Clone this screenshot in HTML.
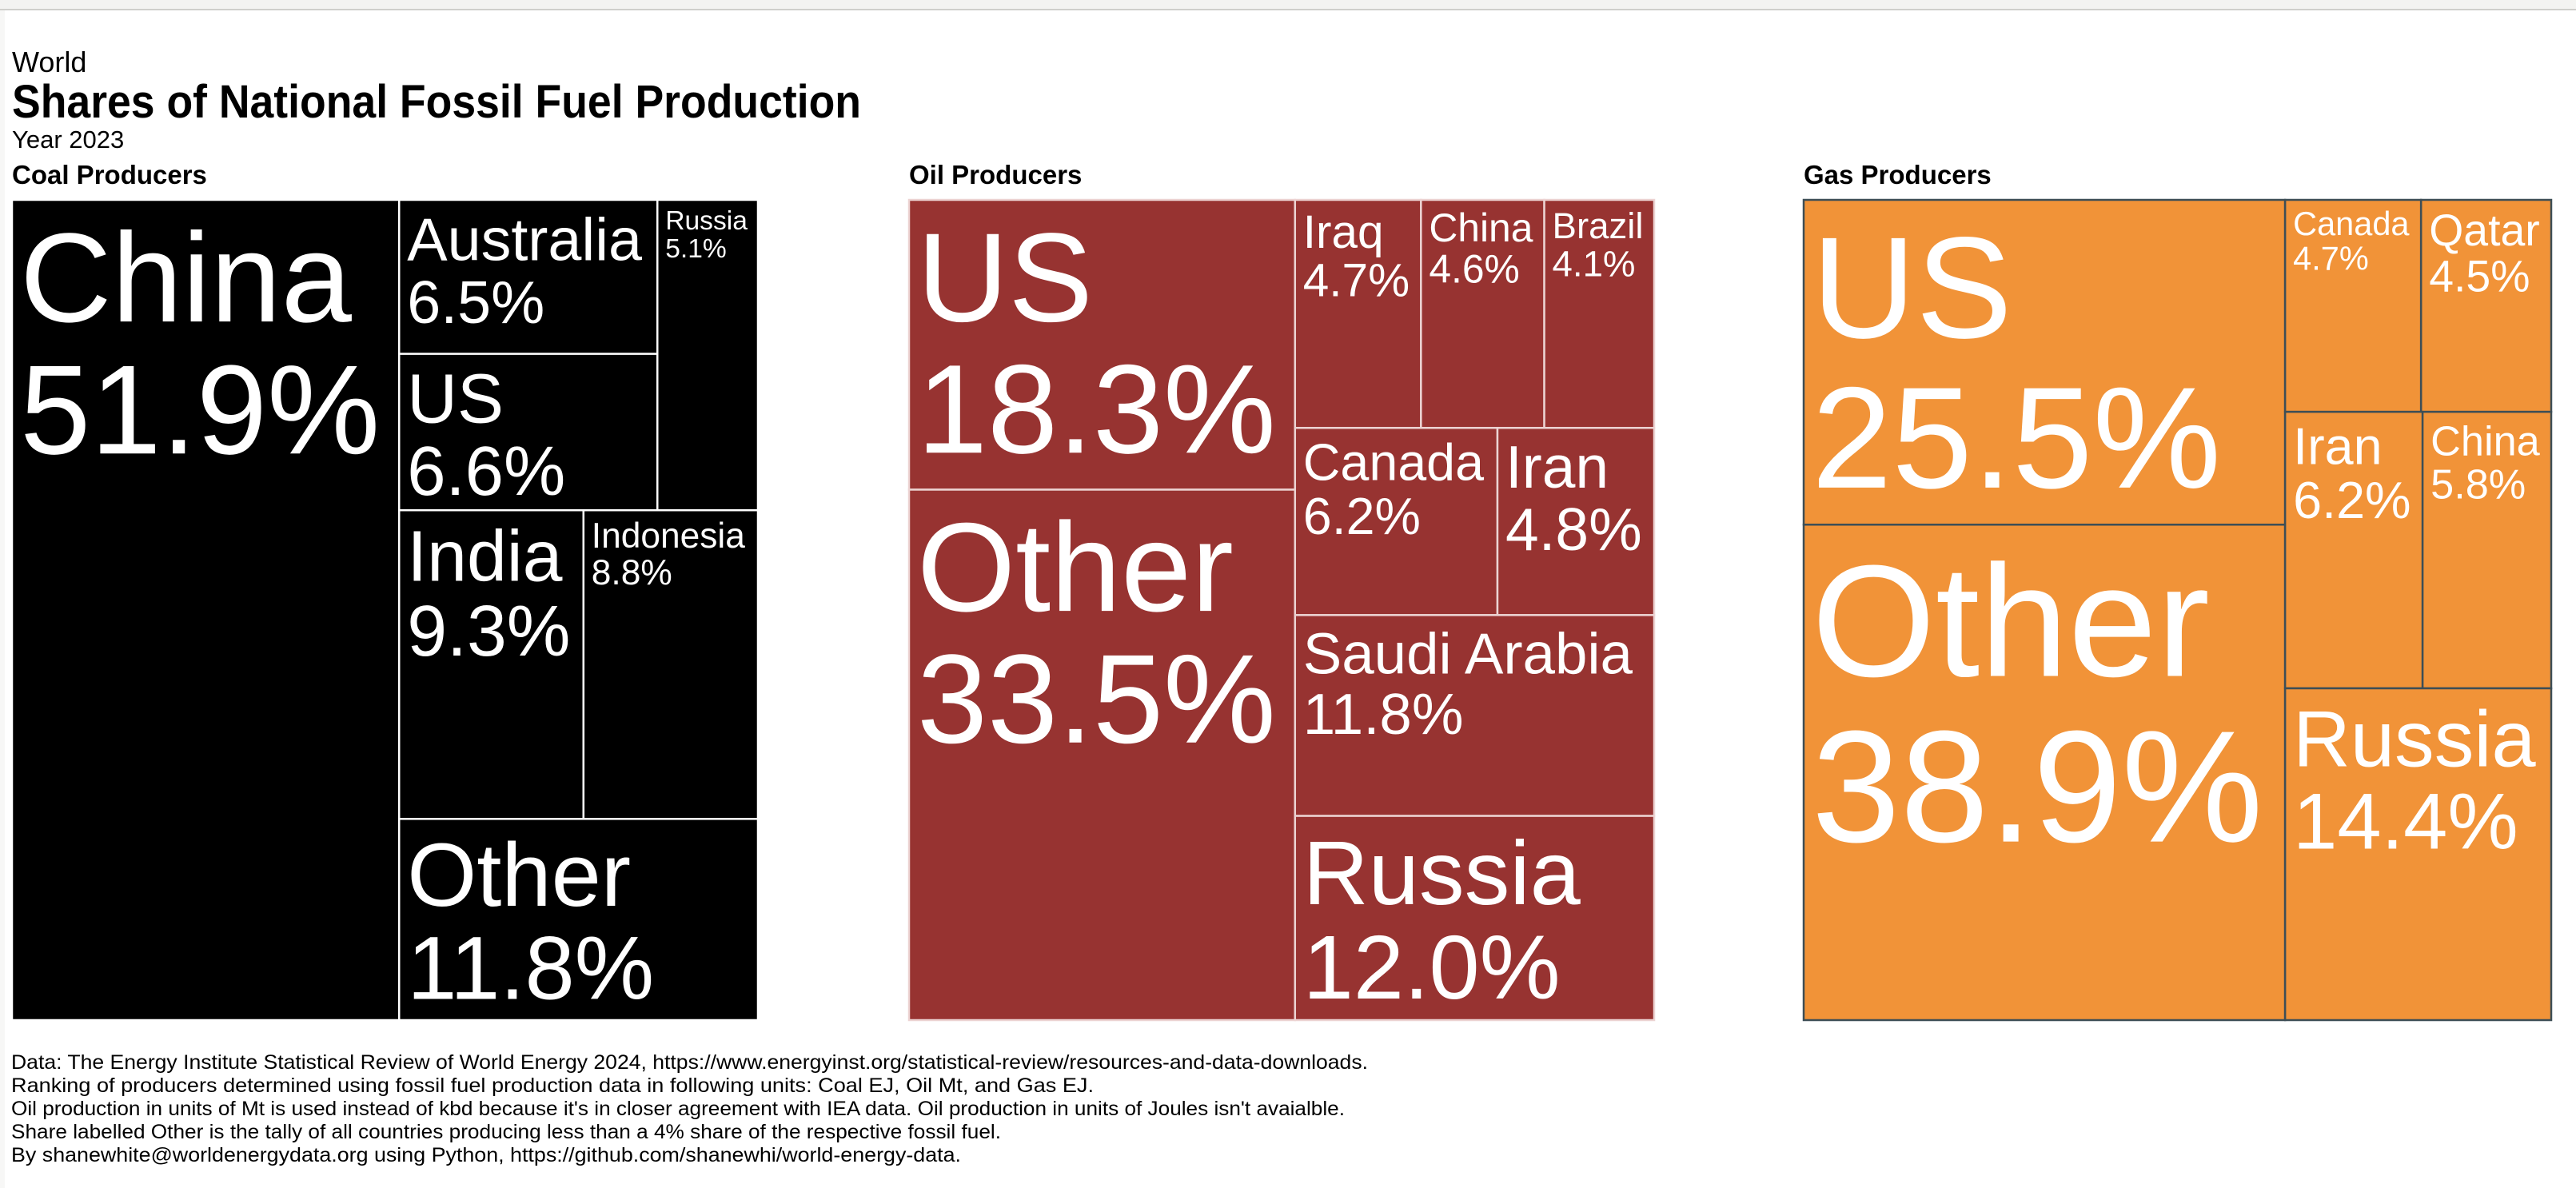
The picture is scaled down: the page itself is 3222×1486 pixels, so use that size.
<!DOCTYPE html>
<html><head><meta charset="utf-8"><style>
html,body{margin:0;padding:0;background:#fff;}
svg{display:block;font-family:"Liberation Sans",Arial,sans-serif;}
</style></head><body>
<svg id="page" width="3222" height="1486" viewBox="0 0 3222 1486" xmlns="http://www.w3.org/2000/svg">
<rect x="0" y="0" width="3222" height="11" fill="#f3f3f1"/>
<rect x="0" y="11" width="3222" height="2" fill="#cfcfcb"/>
<rect x="0" y="13" width="6" height="1473" fill="#f7f7f6"/>
<text x="15" y="90" font-size="36" fill="#000">World</text>
<text x="15" y="147" font-size="58" font-weight="bold" fill="#000" textLength="1062" lengthAdjust="spacingAndGlyphs">Shares of National Fossil Fuel Production</text>
<text x="15" y="185" font-size="31" fill="#000">Year 2023</text>
<g id="charts"></g>
<g font-size="25" fill="#000">
<text x="14" y="1337" textLength="1697" lengthAdjust="spacingAndGlyphs">Data: The Energy Institute Statistical Review of World Energy 2024, https://www.energyinst.org/statistical-review/resources-and-data-downloads.</text>
<text x="14" y="1366" textLength="1354" lengthAdjust="spacingAndGlyphs">Ranking of producers determined using fossil fuel production data in following units: Coal EJ, Oil Mt, and Gas EJ.</text>
<text x="14" y="1395" textLength="1668" lengthAdjust="spacingAndGlyphs">Oil production in units of Mt is used instead of kbd because it's in closer agreement with IEA data. Oil production in units of Joules isn't avaialble.</text>
<text x="14" y="1424" textLength="1238" lengthAdjust="spacingAndGlyphs">Share labelled Other is the tally of all countries producing less than a 4% share of the respective fossil fuel.</text>
<text x="14" y="1453" textLength="1188" lengthAdjust="spacingAndGlyphs">By shanewhite@worldenergydata.org using Python, https://github.com/shanewhi/world-energy-data.</text>
</g>
</svg>
<script>
// ---- data ----
const coalNames = ["China","Australia","US","Russia","India","Indonesia","Other"];
const coalValues = [51.9,6.5,6.6,5.1,9.3,8.8,11.8];
const oilNames = ["US","Other","Iraq","China","Brazil","Canada","Iran","Saudi Arabia","Russia"];
const oilValues = [18.3,33.5,4.7,4.6,4.1,6.2,4.8,11.8,12.0];
const gasNames = ["US","Other","Canada","Qatar","Iran","China","Russia"];
const gasValues = [25.5,38.9,4.7,4.5,6.2,5.8,14.4];
// layout structure (h = side by side, v = stacked), leaves are indices
const coalTree = ["h",0,["v",["h",["v",1,2],3],["h",4,5],6]];
const oilTree = ["h",["v",0,1],["v",["h",2,3,4],["h",5,6],7,8]];
const gasTree = ["h",["v",0,1],["v",["h",2,3],["h",4,5],6]];

const NS="http://www.w3.org/2000/svg";
const root=document.getElementById('charts');
const cv=document.createElement('canvas').getContext('2d');
cv.font='100px "Liberation Sans"';
function sumOf(node,vals){return typeof node==="number"?vals[node]:node.slice(1).reduce((a,n)=>a+sumOf(n,vals),0);}
function layout(node,vals,x,y,w,h,out){
  if(typeof node==="number"){out.push({i:node,x,y,w,h});return;}
  const kids=node.slice(1), tot=sumOf(node,vals); let off=0;
  kids.forEach(k=>{const f=sumOf(k,vals)/tot;
    if(node[0]==="h"){layout(k,vals,x+off,y,w*f,h,out);off+=w*f;}
    else{layout(k,vals,x,y+off,w,h*f,out);off+=h*f;}});
}
function drawChart(key,title,names,vals,tree,x0,y0,W,H,fill,stroke){
  const g=document.createElementNS(NS,'g');
  
  
  root.appendChild(g);
  const t=document.createElementNS(NS,'text');
  
  
  t.setAttribute('x',x0);t.setAttribute('y',y0-20);t.setAttribute('font-size','33');t.setAttribute('font-weight','bold');
  t.textContent=title;g.appendChild(t);
  const cells=[];layout(tree,vals,x0,y0,W,H,cells);
  cells.forEach(c=>{
    const cg=document.createElementNS(NS,'g');
    
    
    g.appendChild(cg);
    const r=document.createElementNS(NS,'rect');
    
    
    r.setAttribute('x',c.x);r.setAttribute('y',c.y);r.setAttribute('width',c.w);r.setAttribute('height',c.h);
    r.setAttribute('fill',fill);r.setAttribute('stroke',stroke);r.setAttribute('stroke-width','2.5');
    cg.appendChild(r);
    const l1=names[c.i], l2=vals[c.i].toFixed(1)+'%';
    const em=Math.max(cv.measureText(l1).width,cv.measureText(l2).width)/100;
    const pad=10;
    let fs=Math.min((c.w-2*pad)/em*0.97, c.h/2.25);
    const lh=fs*1.04, top=c.y+6+0.08*fs;
    [l1,l2].forEach((s,j)=>{
      const tx=document.createElementNS(NS,'text');
      
      
      tx.setAttribute('x',c.x+pad);tx.setAttribute('y',top+fs*0.84+j*lh);
      tx.setAttribute('font-size',fs.toFixed(1));tx.setAttribute('fill','#fff');
      tx.textContent=s;cg.appendChild(tx);
    });
  });
}
drawChart('coal','Coal Producers',coalNames,coalValues,coalTree,15,250,933,1026,'#000000','#ffffff');
drawChart('oil','Oil Producers',oilNames,oilValues,oilTree,1137,250,932,1026,'#973331','#ecd3d2');
drawChart('gas','Gas Producers',gasNames,gasValues,gasTree,2256,250,935,1026,'#f19338','#3d4e56');
</script>
</body></html>
